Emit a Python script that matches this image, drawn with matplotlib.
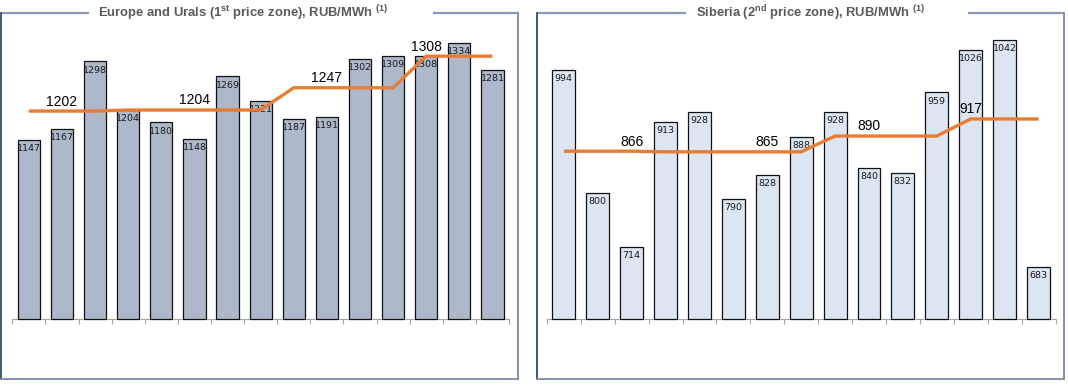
import numpy as np
import matplotlib
matplotlib.use("Agg")
import matplotlib.pyplot as plt

# ---------------- data ----------------
months = list(range(1, 16))

europe_values = [1147, 1167, 1298, 1204, 1180, 1148, 1269, 1221, 1187, 1191,
                 1302, 1309, 1308, 1334, 1281]
europe_avg = [1202, 1202, 1202, 1204, 1204, 1204, 1204, 1204, 1247, 1247,
              1247, 1247, 1308, 1308, 1308]
europe_avg_label_idx = [1, 5, 9, 12]

siberia_values = [994, 800, 714, 913, 928, 790, 828, 888, 928, 840,
                  832, 959, 1026, 1042, 683]
siberia_avg = [866, 866, 866, 865, 865, 865, 865, 865, 890, 890,
               890, 890, 917, 917, 917]
siberia_avg_label_idx = [2, 6, 9, 12]

title_left = r"Europe and Urals (1$^{\mathregular{st}}$ price zone), RUB/MWh $^{\mathregular{(1)}}$"
title_right = r"Siberia (2$^{\mathregular{nd}}$ price zone), RUB/MWh $^{\mathregular{(1)}}$"

# ---------------- figure ----------------
W, H = 1068, 386
fig = plt.figure(figsize=(W / 100, H / 100), dpi=100)
fig.patch.set_facecolor("white")

LINE_COLOR = "#E97C30"
AXIS_GRAY = "#a6a6a6"


def px_rect(x0, x1, y_top, y_bot):
    return [x0 / W, 1 - y_bot / H, (x1 - x0) / W, (y_bot - y_top) / H]


def panel(rect, values, avg, label_idx, ylim, bar_color, bar_width):
    ax = fig.add_axes(rect)
    x = np.arange(len(values))
    base = ylim[0]
    vals = np.array(values, dtype=float)
    bars = ax.bar(x, vals - base, bottom=base, width=bar_width, color=bar_color,
                  edgecolor="#111111", linewidth=0.9, zorder=3)
    for b in bars:
        b.set_clip_on(False)
    for xi, v in zip(x, values):
        ax.annotate(str(v), (xi, v), xytext=(0, -3.0), textcoords="offset points",
                    ha="center", va="top", fontsize=6.8, family="DejaVu Sans",
                    color="#1a1a1a", zorder=4)
    ax.plot(x, avg, color=LINE_COLOR, lw=2.4, zorder=5, solid_capstyle="butt",
            solid_joinstyle="miter")
    for i in label_idx:
        ax.annotate(str(avg[i]), (x[i], avg[i]), xytext=(0, 4.0),
                    textcoords="offset points", ha="center", va="baseline",
                    fontsize=10, family="Liberation Sans", color="black", zorder=6)
    ax.set_xlim(-0.5, len(values) - 0.5)
    ax.set_ylim(*ylim)
    ax.set_xticks(np.arange(-0.5, len(values), 1.0))
    ax.set_yticks([])
    ax.tick_params(axis="x", length=3.8, width=0.8, color=AXIS_GRAY,
                   direction="out", labelbottom=False)
    for s in ["top", "left", "right"]:
        ax.spines[s].set_visible(False)
    ax.spines["bottom"].set_color(AXIS_GRAY)
    ax.spines["bottom"].set_linewidth(0.8)
    ax.set_facecolor("none")
    return ax


panel(px_rect(12.3, 509.0, 30.0, 319.3), europe_values, europe_avg,
      europe_avg_label_idx, (800, 1358.5), "#adb9ca", 0.67)
panel(px_rect(546.9, 1055.5, 30.0, 319.3), siberia_values, siberia_avg,
      siberia_avg_label_idx, (600, 1057.8), "#dce6f2", 0.675)

# ---------------- frames & titles ----------------
ov = fig.add_axes([0, 0, 1, 1], zorder=-1)
ov.set_xlim(0, W)
ov.set_ylim(H, 0)
ov.axis("off")

TOP_C = "#8a9ab2"
LEFT_C = "#1f3864"
SIDE_C = "#7b8ba5"


def frame(x0, x1, gap0, gap1, y0, y1):
    ov.plot([x0, gap0], [y0, y0], color=TOP_C, lw=1.6, solid_capstyle="butt")
    ov.plot([gap1, x1], [y0, y0], color=TOP_C, lw=1.6, solid_capstyle="butt")
    ov.plot([x0, x0], [y0, y1], color=LEFT_C, lw=1.2)
    ov.plot([x1, x1], [y0, y1], color=SIDE_C, lw=1.3)
    ov.plot([x0, x1], [y1, y1], color=SIDE_C, lw=1.3)


frame(1.0, 517.7, 88.6, 433.0, 12.5, 379.3)
frame(536.7, 1064.3, 685.6, 968.3, 12.5, 379.3)

ov.text(243, 13, title_left, ha="center", va="center", fontsize=9.4,
        fontweight="bold", family="Liberation Sans", color="#595959")
ov.text(810.7, 13, title_right, ha="center", va="center", fontsize=9.4,
        fontweight="bold", family="Liberation Sans", color="#595959")

fig.savefig("out.png", dpi=100, facecolor="white")
